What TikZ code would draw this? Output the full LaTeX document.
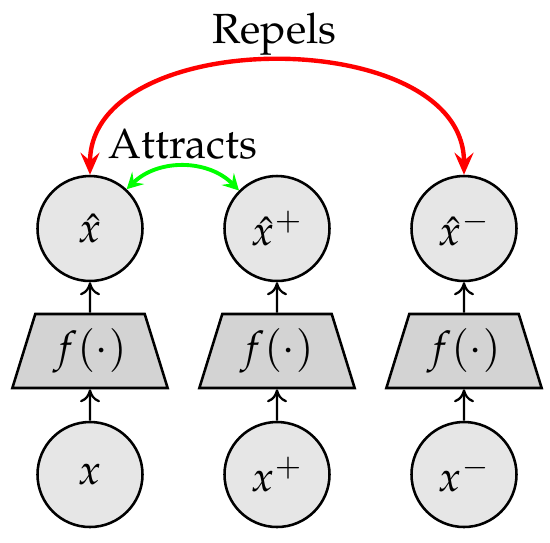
\documentclass[tikz,border=0pt]{standalone}
\usepackage[T1]{fontenc}
\usepackage{mathpazo}
\usepackage{tikz}
\usetikzlibrary{shapes.geometric,arrows.meta}
\definecolor{circlegray}{RGB}{230,230,230}
\definecolor{encgray}{RGB}{211,211,211}

\tikzset{
  bigfont/.style={font=\fontsize{24}{28}\selectfont},
  sample/.style={circle, draw, line width=1.45pt, fill=circlegray,
    minimum size=2.1cm, inner sep=0pt, bigfont},
  encoder/.style={trapezium, trapezium angle=71, trapezium stretches=true,
    draw, line width=1.45pt, fill=encgray, minimum width=3.12cm,
    minimum height=1.48cm, inner sep=0pt, bigfont},
  feed/.style={line width=1.3pt, -{To[length=2.6mm,width=4mm]}},
  repel/.style={red, line width=2.5pt,
    {Stealth[length=4.4mm,width=3.8mm,inset=1.6mm]}-{Stealth[length=4.4mm,width=3.8mm,inset=1.6mm]}},
  attract/.style={green, line width=2.2pt,
    {Stealth[length=3.2mm,width=3.4mm,inset=1.2mm]}-{Stealth[length=3.2mm,width=3.4mm,inset=1.2mm]}}
}

\begin{document}
\begin{tikzpicture}
  \useasboundingbox (0,0) rectangle (11,-10.84);

  \node[sample] (x)  at (1.8,-9.49)  {$x$};
  \node[sample] (xp) at (5.54,-9.49) {$x^{+}$};
  \node[sample] (xm) at (9.28,-9.49) {$x^{-}$};

  \node[encoder] (fx)  at (1.8,-7.02)  {$f(\cdot)$};
  \node[encoder] (fxp) at (5.54,-7.02) {$f(\cdot)$};
  \node[encoder] (fxm) at (9.28,-7.02) {$f(\cdot)$};

  \node[sample] (hx)  at (1.8,-4.57)  {$\hat{x}$};
  \node[sample] (hxp) at (5.54,-4.57) {$\hat{x}^{+}$};
  \node[sample] (hxm) at (9.28,-4.57) {$\hat{x}^{-}$};

  \draw[feed] (x) -- (fx);
  \draw[feed] (xp) -- (fxp);
  \draw[feed] (xm) -- (fxm);
  \draw[feed] (fx) -- (hx);
  \draw[feed] (fxp) -- (hxp);
  \draw[feed] (fxm) -- (hxm);

  \node[bigfont, anchor=base] (repels) at (5.49,-0.86) {Repels};
  \node[bigfont, anchor=base] (attracts) at (3.66,-3.16) {Attracts};

  \draw[repel] (hx.north) .. controls +(0,3.01) and +(0,3.01) .. (hxm.north);
  \draw[attract] (hx.47) to[bend left=45] (hxp.135);
\end{tikzpicture}
\end{document}
